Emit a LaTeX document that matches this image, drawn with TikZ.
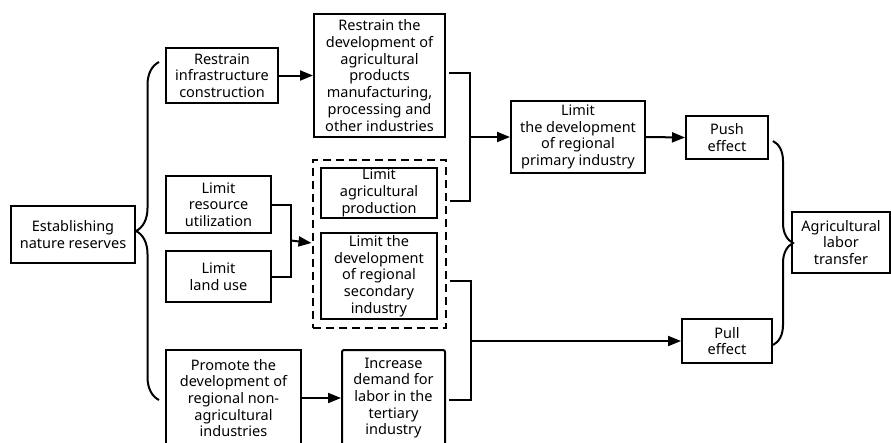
\documentclass[tikz,border=0pt]{standalone}
\usepackage{fontspec}
\setmainfont{Noto Sans}
\usetikzlibrary{positioning,arrows.meta,fit,decorations.pathreplacing,calc}

\begin{document}
\begin{tikzpicture}[x=1pt, y=-1pt,
  font=\fontsize{14.5}{16.7}\selectfont,
  box/.style={draw, align=center, inner sep=0pt},
  size/.style 2 args={minimum width=#1pt, minimum height=#2pt},
  brace/.style={decorate, decoration={brace, amplitude=#1}},
  >={Triangle[length=13pt,width=10pt]}, every path/.style={line width=2pt}]
\useasboundingbox (0,0) rectangle (891,442);
\node[box, size={124}{57}] (est) at (73,234.5) {Establishing\\nature reserves};
\node[box, size={112}{55}] (infra) at (222,75.5) {Restrain\\infrastructure\\construction};
\node[box, size={105}{57}] (res) at (218.5,204.5) {Limit\\resource\\utilization};
\node[box, size={105}{51}] (land) at (218.5,276.5) {Limit\\land use};
\node[box, size={135}{96}] (prom) at (233.5,398) {Promote the\\development of\\regional non-\\agricultural\\industries};
\node[box, size={131}{123}] (manu) at (379.5,75.5) {Restrain the\\development of\\agricultural\\products\\manufacturing,\\processing and\\other industries};
\node[box, size={116}{50}] (agri) at (379,193) {Limit\\agricultural\\production};
\node[box, size={116}{86}] (sec) at (379,276) {Limit the\\development\\of regional\\secondary\\industry};
\node[draw, dash pattern=on 8pt off 5pt, inner sep=7.5pt, fit=(agri) (sec)] (lim) {};
\node[box, rounded corners=2pt, size={103}{96}] (tert) at (393.5,398) {Increase\\demand for\\labor in the\\tertiary\\industry};
\node[box, size={134}{72}] (prim) at (578,137) {Limit\\the development\\of regional\\primary industry};
\node[box, size={82}{43}] (push) at (727,137.5) {Push\\effect};
\node[box, size={90}{44}] (pull) at (727,341) {Pull\\effect};
\node[box, size={98}{61}] (trans) at (841,242.5) {Agricultural\\labor\\transfer};
% braces
\coordinate (b1) at ($(prom.west)+(-6,2)$);
\coordinate (b2) at ($(infra.west)+(-6,-13.5)$);
\draw[brace=23pt] (b1) -- (b2);
\coordinate (b3) at ($(push.east)+(4,3.5)$);
\coordinate (b4) at ($(pull.east)+(0,4)$);
\draw[brace=20pt] (b3) -- (b4);
% left side
\draw (res.east) -- ++(19,0) coordinate (j1) |- (land.east);
\draw[->] ($(j1)!0.5!(j1 |- land.east)$) -- (lim.west |- 0,243);
\draw[->] (infra.east) -- (manu.west);
\draw[->] (prom.east) -- (tert.west);
% upper join
\coordinate (u1) at ($(manu.east)+(3,-2.5)$);
\coordinate (u2) at ($(lim.east |- agri.east)+(3,7.5)$);
\draw (u1) -- ++(21,0) coordinate (j2) |- (u2);
\draw[->] (j2 |- prim.west) -- (prim.west);
\draw[->] (prim.east) -- (push.west);
% lower join
\coordinate (l1) at ($(lim.east |- sec.east)+(3,5)$);
\coordinate (l2) at ($(tert.east)+(3,2)$);
\draw (l1) -- ++(21,0) coordinate (j3) |- (l2);
\draw[->] (j3 |- pull.west) -- (pull.west);
\end{tikzpicture}
\end{document}
